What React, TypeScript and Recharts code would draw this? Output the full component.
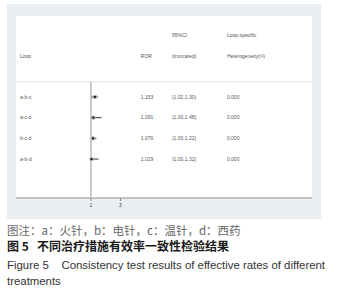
import { CartesianGrid, ErrorBar, ReferenceLine, Scatter, ScatterChart, XAxis, YAxis } from "recharts";

const LOOPS = ["a-b-c", "a-c-d", "b-c-d", "a-b-d"];
const ROR = [1.153, 1.091, 1.076, 1.019];
const CI_LOW = [1.02, 1.0, 1.0, 1.0];
const CI_HIGH = [1.3, 1.48, 1.22, 1.32];
const TAU2 = [0, 0, 0, 0];
const X_TICKS = [1, 3];

// column anchors in data units (log x), header rows above the loops
const COL_X = { loop: 0.071, ror: 6.4, ci: 20.4, het: 158 };
const X_DOMAIN = [0.0612, 3760];
const Y_DOMAIN = [-2.91, 5.88];
const HEADER_LINE_Y = 0.27;

const points = ROR.map((v, i) => ({ x: v, y: i + 1, err: [v - CI_LOW[i], CI_HIGH[i] - v] }));

const textRows = [
  { x: COL_X.ci, y: -2, text: "95%CI" },
  { x: COL_X.het, y: -2, text: "Loop-specific" },
  { x: COL_X.loop, y: -0.95, text: "Loop" },
  { x: COL_X.ror, y: -0.95, text: "ROR" },
  { x: COL_X.ci, y: -0.95, text: "(truncated)" },
  { x: COL_X.het, y: -0.95, text: "Heterogeneity(τ²)" },
  ...LOOPS.flatMap((l, i) => [
    { x: COL_X.loop, y: i + 1, text: l },
    { x: COL_X.ror, y: i + 1, text: ROR[i].toFixed(3) },
    { x: COL_X.ci, y: i + 1, text: `(${CI_LOW[i].toFixed(2)},${CI_HIGH[i].toFixed(2)})` },
    { x: COL_X.het, y: i + 1, text: TAU2[i].toFixed(3) },
  ]),
];

const TextShape = (props: any) => (
  <text x={props.cx} y={props.cy} dy="0.35em" fontSize={5} fill="#555" fontFamily="Liberation Sans, Arial, sans-serif">
    {props.payload.text}
  </text>
);

const BoxShape = (props: any) => (
  <g>
    <rect x={props.cx - 2} y={props.cy - 2} width={4} height={4} fill="#bbb" />
    <rect x={props.cx - 1} y={props.cy - 1} width={2} height={2} fill="#111" />
  </g>
);

const caption = { position: "absolute" as const, left: 7, whiteSpace: "nowrap" as const };

export default function App() {
  return (
    <div style={{ position: "absolute", left: 0, top: 0, width: 348, height: 296, background: "#fff" }}>
      <div style={{ position: "absolute", left: 7, top: 4, width: 314, height: 215, background: "#e8eef1" }}>
        <ScatterChart width={314} height={215} margin={{ top: 12, right: 9, bottom: 0, left: 9 }}>
          <CartesianGrid fill="#fff" horizontal={false} vertical={false} />
          <XAxis
            type="number"
            dataKey="x"
            scale="log"
            domain={X_DOMAIN}
            allowDataOverflow
            ticks={X_TICKS}
            height={21}
            tickSize={3}
            axisLine={{ stroke: "#c4c4c4", strokeWidth: 2 }}
            tickLine={{ stroke: "#888" }}
            tick={{ fontSize: 5, fill: "#444", fontFamily: "Liberation Sans, Arial, sans-serif" }}
          />
          <YAxis type="number" dataKey="y" domain={Y_DOMAIN} reversed hide allowDataOverflow />
          <ReferenceLine y={HEADER_LINE_Y} stroke="#e6e6e6" strokeWidth={1} />
          <ReferenceLine
            segment={[
              { x: 1, y: HEADER_LINE_Y },
              { x: 1, y: Y_DOMAIN[1] },
            ]}
            stroke="#999"
            strokeWidth={1}
          />
          <Scatter data={points} shape={<BoxShape />} isAnimationActive={false}>
            <ErrorBar dataKey="err" direction="x" width={0} stroke="#333" strokeWidth={1} />
          </Scatter>
          <Scatter data={textRows} shape={<TextShape />} isAnimationActive={false} />
        </ScatterChart>
      </div>
      <div style={{ ...caption, top: 224, height: 13, lineHeight: "13px", fontSize: 11.5, color: "#666", fontFamily: "Noto Sans CJK SC, sans-serif" }}>
        图注：a：火针，b：电针，c：温针，d：西药
      </div>
      <div style={{ ...caption, top: 239, height: 13, lineHeight: "13px", fontSize: 12, color: "#1a1a1a", fontWeight: 700, fontFamily: "Noto Sans CJK SC, sans-serif" }}>
        图 5&nbsp;&nbsp;&nbsp;不同治疗措施有效率一致性检验结果
      </div>
      <div style={{ ...caption, top: 258, lineHeight: "14px", fontSize: 11.4, color: "#333", fontFamily: "Liberation Sans, Arial, sans-serif" }}>
        Figure 5&nbsp;&nbsp;&nbsp; Consistency test results of effective rates of different
      </div>
      <div style={{ ...caption, top: 274, lineHeight: "14px", fontSize: 11.4, color: "#333", fontFamily: "Liberation Sans, Arial, sans-serif" }}>
        treatments
      </div>
    </div>
  );
}
